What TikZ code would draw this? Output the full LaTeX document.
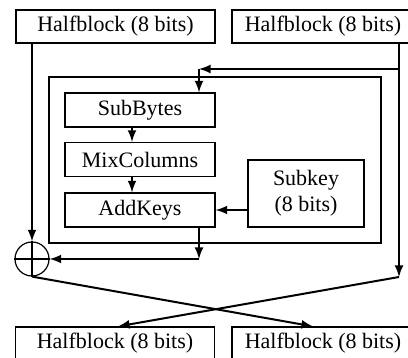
\documentclass[tikz,border=0pt]{standalone}
\usepackage{fontspec}
\setmainfont{Liberation Serif}
\usetikzlibrary{arrows}

\begin{document}
\begin{tikzpicture}[x = 0.5pt, y = -0.5pt]
\tikzstyle{BoxStyle} = [shape = rectangle, draw, line width = 0.6pt, inner sep = 0pt, font = \fontsize{11}{13}\selectfont]
\tikzstyle{halfStyle} = [BoxStyle, minimum width = 99.5pt, minimum height = 16.5pt]
\tikzstyle{halfRStyle} = [BoxStyle, minimum width = 91pt, minimum height = 16.5pt]
\tikzstyle{stageStyle} = [BoxStyle, minimum width = 75pt, minimum height = 17pt]
\tikzstyle{WireStyle} = [line width = 1pt, >=latex]
\useasboundingbox (0,0) rectangle (408,358);
% inputs
\node[halfStyle] (inL) at (115.5, 26.5) {Halfblock (8 bits)};
\node[halfRStyle] (inR) at (323, 26.5) {Halfblock (8 bits)};
% round function
\node[BoxStyle, minimum width = 166pt, minimum height = 83pt] (frame) at (215, 160) {};
\node[stageStyle] (sub) at (140, 110) {SubBytes};
\node[stageStyle] (mix) at (140, 159.5) {MixColumns};
\node[stageStyle] (add) at (140, 210) {AddKeys};
\node[BoxStyle, minimum width = 58pt, minimum height = 33.5pt, align = center] (key) at (306, 193.5) {Subkey\\(8 bits)};
\node[shape = circle, draw, line width = 0.6pt, minimum size = 17pt, inner sep = 0pt] (xor) at (32, 259) {};
\draw[line width = 0.6pt] (xor.north) -- (xor.south) (xor.west) -- (xor.east);
% outputs
\node[halfStyle] (outL) at (115, 343.5) {Halfblock (8 bits)};
\node[halfRStyle] (outR) at (323, 343.5) {Halfblock (8 bits)};
% wires
\coordinate (rtap) at (399, 69);
\coordinate (rbot) at (399, 277);
\coordinate (bend) at (199, 69);
\coordinate (mid) at (132, 0);
\draw[WireStyle, ->] (xor |- inL.south) -- (xor.north);
\draw[WireStyle, ->] (rbot |- inR.south) -- (rbot);
\draw[WireStyle, ->] (rtap) -- (bend);
\draw[WireStyle, ->] (bend) -- (bend |- sub.north);
\draw[WireStyle, ->] (mid |- sub.south) -- (mid |- mix.north);
\draw[WireStyle, ->] (mid |- mix.south) -- (mid |- add.north);
\draw[WireStyle, ->] (key.west |- add.east) -- (add.east);
\draw[WireStyle, ->] (bend |- add.south) -- (bend |- xor);
\draw[WireStyle, ->] (bend |- xor) -- (xor.east);
\draw[WireStyle, ->] (xor.south) -- ([xshift = -5pt]outR.north);
\draw[WireStyle, ->] (rbot) -- ([xshift = 1.5pt]outL.north);
\end{tikzpicture}
\end{document}
